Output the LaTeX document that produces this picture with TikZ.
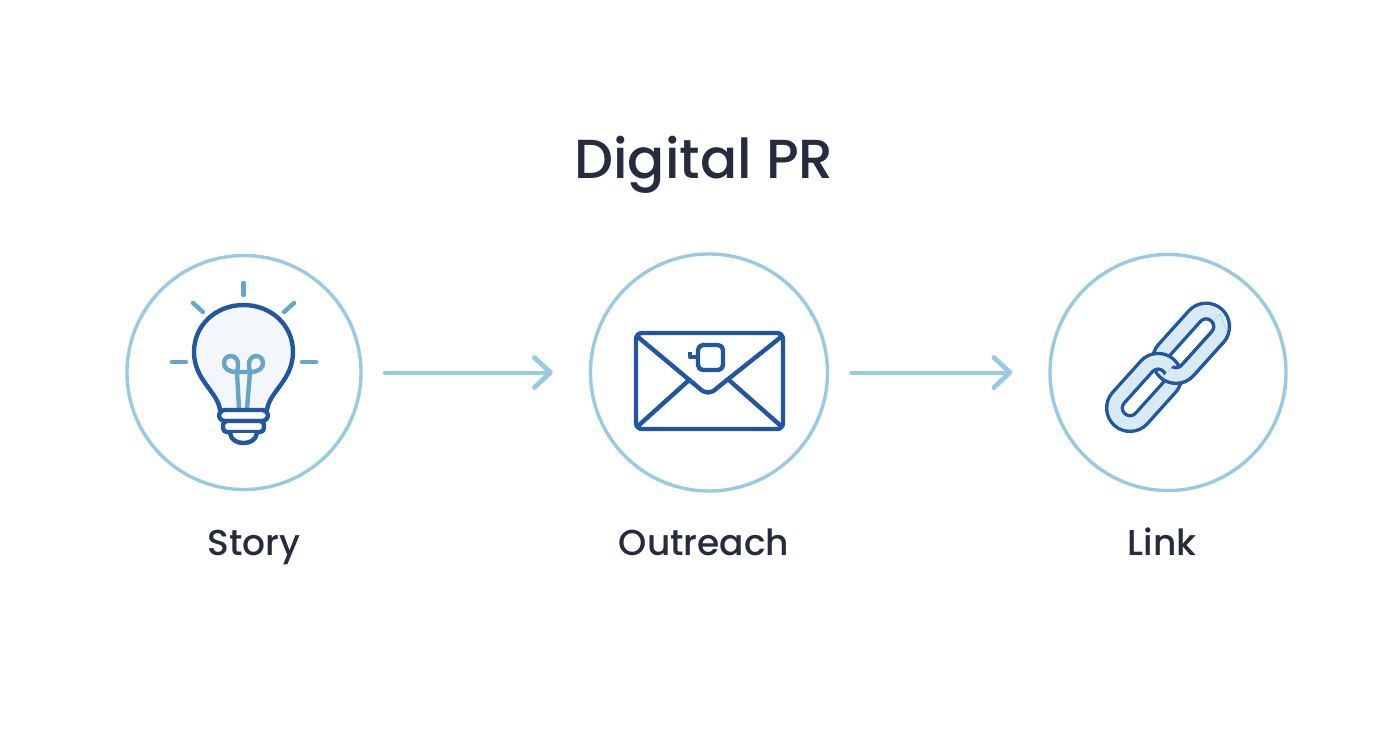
\documentclass[tikz,border=0pt]{standalone}
\usepackage{fontspec}
\setmainfont{Poppins Medium}
\usetikzlibrary{arrows.meta}
\definecolor{ringblue}{HTML}{98CAE1}
\definecolor{inkblue}{HTML}{2156A0}
\definecolor{rayblue}{HTML}{66A5C8}
\definecolor{paleblue}{HTML}{F3F7FC}
\definecolor{linkblue}{HTML}{D8EBF4}
\definecolor{labelink}{HTML}{262B3D}
\tikzset{%
  ring/.style={circle, draw=ringblue, line width=1.7pt, fill=white, inner sep=0pt, minimum size=#1},
  flow/.style={draw=ringblue, line width=2pt, line cap=round, -{Straight Barb[length=8pt,width=15pt,line width=2.4pt,round]}},
  caption/.style={text=labelink, anchor=base, font=\fontsize{18}{22}\selectfont},
  ink/.style={draw=inkblue, line width=2.2pt, line cap=round, line join=round},
  ray/.style={draw=rayblue, line width=2.2pt, line cap=round},
}
% one link of the chain: lower end at #1, length #2
\newcommand{\ChainLink}[2]{
  \begin{scope}[shift={(#1)},rotate=48]
    \draw [inkblue, line width=9.5pt] (0,-15.5) -- (#2,-15.5) arc (-90:90:15.5) -- (0,15.5) arc (90:270:15.5) -- cycle;
    \draw [linkblue, line width=6.1pt] (0,-15.5) -- (#2,-15.5) arc (-90:90:15.5) -- (0,15.5) arc (90:270:15.5) -- cycle;
  \end{scope}
}
\begin{document}
\begin{tikzpicture}[x=0.5pt,y=-0.5pt]
  \useasboundingbox (0,0) rectangle (1392,752);
  \fill[white] (0,0) rectangle (1392,752);
  % title
  \node [caption, font=\fontsize{27.5}{30}\selectfont] (title) at (704,178) {Digital PR};
  % stages
  \node [ring=117pt] (story) at (244,372.5) {};
  \node [ring=118.5pt] (outreach) at (709,372.5) {};
  \node [ring=118pt] (link) at (1168,372.5) {};
  \node [caption] (storylabel) at (254,555) {Story};
  \node [caption] (outreachlabel) at (704,555) {Outreach};
  \node [caption] (linklabel) at (1162,555) {Link};
  \draw [flow, shorten <=11pt, shorten >=18pt] (story) -- (outreach);
  \draw [flow, shorten <=11pt, shorten >=18pt] (outreach) -- (link);
  % bulb
  \draw [ink, fill=paleblue] (220,410) .. controls (218,392) and (194,380) .. (194,352)
    .. controls (194,325) and (216,305) .. (243.5,305)
    .. controls (271,305) and (293,325) .. (293,352)
    .. controls (293,380) and (269,392) .. (267,410);
  \draw [ray] (243.5,283) -- (243.5,295);
  \draw [ray] (193,303) -- (203,312);
  \draw [ray] (294,303) -- (284,312);
  \draw [ray] (172,362) -- (186,362);
  \draw [ray] (302,362) -- (316,362);
  \draw [ray] (239,409) -- (237,372) .. controls (228,372) and (224,368) .. (224,363)
    .. controls (224,358) and (228,356) .. (231,356)
    .. controls (235,356) and (239,360) .. (238,366) -- (237,372) -- (250,372)
    .. controls (259,372) and (263,368) .. (263,363)
    .. controls (263,358) and (259,356) .. (256,356)
    .. controls (252,356) and (248,360) .. (249,366) -- (250,372) -- (247,409);
  \draw [ink, fill=white, rounded corners=3pt] (219,410) rectangle (268,421);
  \draw [ink, fill=white, rounded corners=2pt] (223,421) rectangle (264,432);
  \draw [ink, fill=white] (230,433) .. controls (231,440) and (237,443) .. (243.5,443)
    .. controls (250,443) and (256,440) .. (257,433);
  % envelope
  \draw [ink, fill=white, rounded corners=3pt] (636,333) rectangle (783,429);
  \draw [ink] (638,337) -- (699,388) .. controls (705,394) and (711,394) .. (717,388) -- (781,337);
  \draw [ink] (688,381) -- (638,426);
  \draw [ink] (730,381) -- (781,426);
  \draw [ink, rounded corners=2.5pt] (698,345) -- (723,345) -- (723,370) -- (698,370) -- cycle;
  \draw [ink, line cap=butt] (698,357) -- (690,357) -- (690,352);
  % chain
  \ChainLink{1176,360}{45}
  \ChainLink{1130,408}{42}
  \begin{scope}
    \clip (1120,424) -- (1220,314) -- (1260,420) -- cycle;
    \ChainLink{1176,360}{45}
  \end{scope}
\end{tikzpicture}
\end{document}
